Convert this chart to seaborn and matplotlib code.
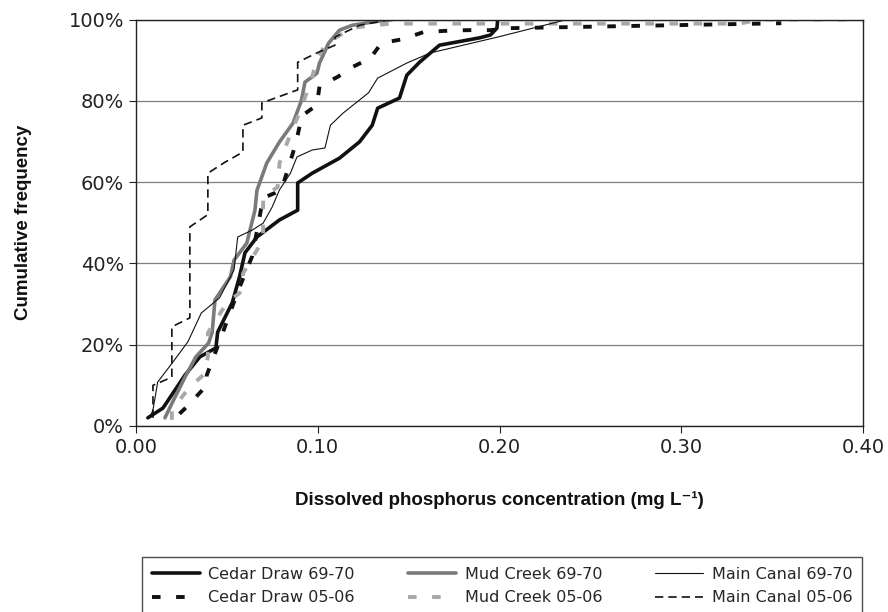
import matplotlib
matplotlib.use("Agg")
import matplotlib.pyplot as plt
import seaborn as sns
from matplotlib.ticker import PercentFormatter

# Cumulative frequency curves (x = concentration mg/L, y = fraction)
cedar_6970_x = [0.0066, 0.0149, 0.027, 0.0352, 0.044, 0.045, 0.053, 0.057, 0.060, 0.0666, 0.079, 0.089, 0.089,
                0.097, 0.112, 0.123, 0.130, 0.133, 0.145, 0.149, 0.156, 0.167, 0.189, 0.195, 0.1986, 0.199]
cedar_6970_y = [0.020, 0.044, 0.125, 0.170, 0.192, 0.231, 0.303, 0.367, 0.426, 0.465, 0.507, 0.531, 0.598,
                0.622, 0.659, 0.699, 0.740, 0.782, 0.807, 0.863, 0.895, 0.937, 0.955, 0.962, 0.979, 1.0]

mud_6970_x = [0.016, 0.020, 0.027, 0.033, 0.040, 0.042, 0.0435, 0.052, 0.054, 0.061, 0.0655, 0.0666, 0.072,
              0.079, 0.0864, 0.091, 0.093, 0.0996, 0.101, 0.106, 0.112, 0.119, 0.130, 0.141]
mud_6970_y = [0.020, 0.057, 0.120, 0.170, 0.204, 0.231, 0.310, 0.367, 0.408, 0.450, 0.531, 0.580, 0.647,
              0.699, 0.745, 0.800, 0.846, 0.868, 0.893, 0.942, 0.974, 0.986, 0.994, 1.0]

main_6970_x = [0.0077, 0.0094, 0.012, 0.020, 0.0286, 0.036, 0.046, 0.054, 0.056, 0.064, 0.070, 0.075, 0.079,
               0.085, 0.0886, 0.097, 0.104, 0.107, 0.114, 0.128, 0.133, 0.149, 0.162, 0.199, 0.237]
main_6970_y = [0.022, 0.039, 0.108, 0.155, 0.207, 0.278, 0.315, 0.384, 0.465, 0.482, 0.499, 0.539, 0.581,
               0.622, 0.662, 0.679, 0.684, 0.740, 0.770, 0.820, 0.856, 0.893, 0.918, 0.957, 1.0]

cedar_0506_x = [0.024, 0.028, 0.039, 0.039, 0.047, 0.056, 0.064, 0.070, 0.080, 0.0864, 0.089, 0.0913, 0.0996,
                0.101, 0.111, 0.119, 0.129, 0.135, 0.147, 0.158, 0.169, 0.182, 0.195, 0.207, 0.355]
cedar_0506_y = [0.030, 0.047, 0.100, 0.125, 0.220, 0.330, 0.418, 0.561, 0.580, 0.672, 0.716, 0.763, 0.790,
                0.836, 0.859, 0.883, 0.905, 0.942, 0.952, 0.969, 0.972, 0.974, 0.974, 0.979, 0.991]

mud_0506_x = [0.0198, 0.0198, 0.0297, 0.037, 0.0396, 0.0396, 0.050, 0.057, 0.059, 0.070, 0.070, 0.078, 0.079,
              0.0858, 0.090, 0.097, 0.0996, 0.105, 0.119, 0.140, 0.332, 0.343, 0.40]
mud_0506_y = [0.015, 0.040, 0.096, 0.125, 0.170, 0.229, 0.303, 0.327, 0.376, 0.458, 0.563, 0.588, 0.647,
              0.728, 0.770, 0.859, 0.905, 0.942, 0.980, 0.990, 0.990, 1.0, 1.0]

main_0506_x = [0.0094, 0.0094, 0.0198, 0.0198, 0.0297, 0.0297, 0.0396, 0.0396, 0.049, 0.0589, 0.0589, 0.0693,
               0.0693, 0.089, 0.089, 0.0996, 0.1095, 0.1095, 0.123, 0.140]
main_0506_y = [0.020, 0.100, 0.120, 0.244, 0.266, 0.490, 0.520, 0.622, 0.649, 0.674, 0.740, 0.758,
               0.795, 0.827, 0.895, 0.918, 0.937, 0.957, 0.986, 1.0]

x_ticks = [0.0, 0.1, 0.2, 0.3, 0.4]
y_ticks = [0.0, 0.2, 0.4, 0.6, 0.8, 1.0]

sns.set_style("white")
plt.rcParams['font.family'] = ['DejaVu Sans']

fig = plt.figure(figsize=(8.88, 6.12), dpi=100)
ax = fig.add_axes([0.153, 0.304, 0.819, 0.664])

# series drawn in legend column order
series = [
    ("Cedar Draw 69-70", cedar_6970_x, cedar_6970_y, "#111111", 2.6, "-"),
    ("Cedar Draw 05-06", cedar_0506_x, cedar_0506_y, "#111111", 2.8, (0, (2.2, 4.0))),
    ("Mud Creek 69-70", mud_6970_x, mud_6970_y, "#7a7a7a", 2.6, "-"),
    ("Mud Creek 05-06", mud_0506_x, mud_0506_y, "#a8a8a8", 2.8, (0, (2.2, 4.0))),
    ("Main Canal 69-70", main_6970_x, main_6970_y, "#111111", 0.8, "-"),
    ("Main Canal 05-06", main_0506_x, main_0506_y, "#111111", 1.2, (0, (5, 3))),
]
for name, xs, ys, col, lw, ls in series:
    sns.lineplot(x=xs, y=ys, ax=ax, sort=False, estimator=None, color=col,
                 linewidth=lw, linestyle=ls, label=name, legend=False)

ax.set_xlim(0, 0.4)
ax.set_ylim(0, 1.0)
ax.set_xticks(x_ticks)
ax.set_yticks(y_ticks)
ax.set_xticklabels([f"{v:.2f}" for v in x_ticks])
ax.yaxis.set_major_formatter(PercentFormatter(1.0, decimals=0))
ax.tick_params(axis='both', labelsize=14, direction='out', length=5, width=0.8,
               colors='#222222', bottom=True, left=True)
ax.yaxis.grid(True, color='#7f7f7f', linewidth=0.9)
ax.xaxis.grid(False)
for s in ax.spines.values():
    s.set_color('#222222')
    s.set_linewidth(1.0)

lab_font = ['Liberation Sans', 'DejaVu Sans']
ax.set_xlabel("Dissolved phosphorus concentration (mg L\u207b\u00b9)", fontsize=13.5,
              fontweight='bold', family=lab_font, labelpad=25, color='#111111')
ax.set_ylabel("Cumulative frequency", fontsize=13.5, fontweight='bold', family=lab_font,
              labelpad=26, color='#111111')

handles, labels = ax.get_legend_handles_labels()
leg = fig.legend(handles, labels, loc='upper left', bbox_to_anchor=(0.16, 0.0, 0.811, 0.09),
                 mode='expand', ncol=3, fontsize=11.5, frameon=True, fancybox=False,
                 handlelength=3.0, handletextpad=0.55, borderaxespad=0, borderpad=0.6,
                 columnspacing=1.0, labelspacing=0.55)
leg.get_frame().set_edgecolor('#222222')
leg.get_frame().set_linewidth(1.0)

plt.savefig("out.png", dpi=100)
plt.close()
